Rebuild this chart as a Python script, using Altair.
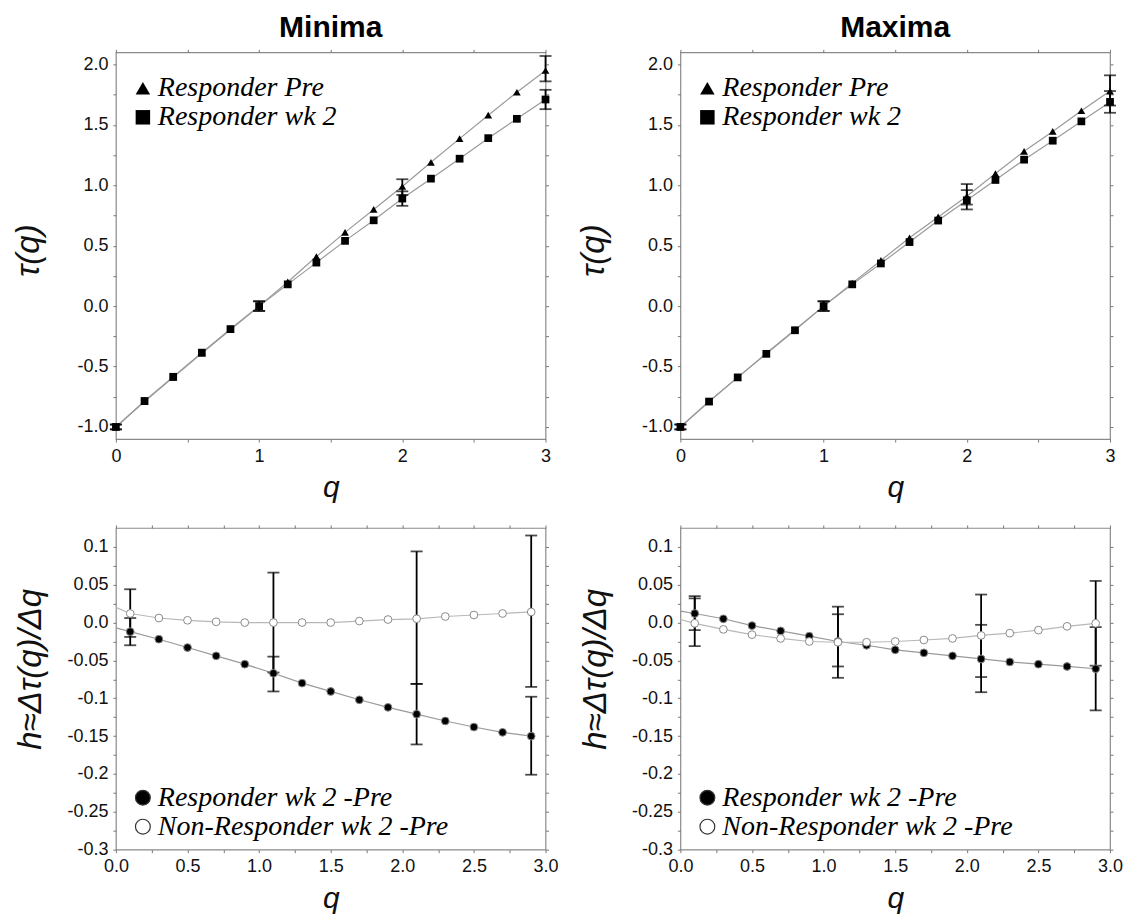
import altair as alt
import pandas as pd

# ---------------- data ----------------
q_top = [0.0, 0.2, 0.4, 0.6, 0.8, 1.0, 1.2, 1.4, 1.6, 1.8, 2.0, 2.2, 2.4, 2.6, 2.8, 3.0]
min_pre = [-1.0, -0.79, -0.59, -0.39, -0.195, 0.0, 0.20, 0.41, 0.61, 0.80, 0.99, 1.19, 1.386, 1.58, 1.77, 1.95]
min_wk2 = [-1.0, -0.785, -0.585, -0.385, -0.19, 0.0, 0.18, 0.36, 0.54, 0.71, 0.89, 1.055, 1.22, 1.39, 1.55, 1.71]
max_pre = [-1.0, -0.79, -0.59, -0.39, -0.195, 0.0, 0.19, 0.378, 0.565, 0.738, 0.909, 1.097, 1.281, 1.446, 1.617, 1.78]
max_wk2 = [-1.0, -0.79, -0.59, -0.395, -0.2, 0.0, 0.18, 0.353, 0.53, 0.708, 0.876, 1.044, 1.212, 1.369, 1.529, 1.69]

q_err_top = [0.0, 1.0, 2.0, 3.0]
min_pre_lo = [-1.02, -0.04, 0.92, 1.86]
min_pre_hi = [-0.98, 0.04, 1.05, 2.07]
min_wk2_lo = [-1.02, -0.04, 0.83, 1.63]
min_wk2_hi = [-0.98, 0.04, 0.95, 1.79]
max_pre_lo = [-1.02, -0.04, 0.84, 1.66]
max_pre_hi = [-0.98, 0.04, 1.01, 1.91]
max_wk2_lo = [-1.02, -0.04, 0.80, 1.60]
max_wk2_hi = [-0.98, 0.04, 0.96, 1.78]

q_bot = [0.1, 0.3, 0.5, 0.7, 0.9, 1.1, 1.3, 1.5, 1.7, 1.9, 2.1, 2.3, 2.5, 2.7, 2.9]
min_resp = [-0.012, -0.022, -0.033, -0.044, -0.055, -0.067, -0.080, -0.091, -0.102, -0.112, -0.121, -0.130, -0.138, -0.145, -0.150]
min_non = [0.012, 0.006, 0.003, 0.001, 0.000, 0.000, 0.000, 0.000, 0.002, 0.004, 0.005, 0.008, 0.010, 0.012, 0.014]
max_resp = [0.012, 0.005, -0.004, -0.011, -0.018, -0.025, -0.030, -0.036, -0.040, -0.044, -0.048, -0.052, -0.055, -0.058, -0.061]
max_non = [-0.001, -0.009, -0.016, -0.021, -0.025, -0.026, -0.026, -0.025, -0.023, -0.021, -0.017, -0.014, -0.010, -0.005, -0.001]
# fitted curves start at q = 0
fit_q0 = 0.0
min_resp_fit0 = -0.007
min_non_fit0 = 0.020
max_resp_fit0 = 0.015
max_non_fit0 = 0.004

q_err_bot = [0.1, 1.1, 2.1, 2.9]
min_resp_lo = [-0.030, -0.091, -0.161, -0.201]
min_resp_hi = [0.006, -0.045, -0.081, -0.098]
min_non_lo = [-0.019, -0.066, -0.081, -0.085]
min_non_hi = [0.044, 0.066, 0.094, 0.115]
max_resp_lo = [-0.010, -0.073, -0.092, -0.116]
max_resp_hi = [0.035, 0.021, -0.003, -0.006]
max_non_lo = [-0.031, -0.058, -0.072, -0.057]
max_non_hi = [0.032, 0.011, 0.037, 0.055]

top_series = ["Responder Pre", "Responder wk 2"]
bot_series = ["Responder wk 2 -Pre", "Non-Responder wk 2 -Pre"]

top_x_ticks = [round(i * 0.5, 3) for i in range(7)]
top_y_ticks = [round(-1.0 + i * 0.25, 3) for i in range(13)]
bot_x_ticks = [round(i * 0.25, 3) for i in range(13)]
bot_y_ticks = [round(-0.3 + i * 0.025, 3) for i in range(17)]

LABEL_FONT = "Liberation Sans"
SERIF = "Liberation Serif"

top_x_expr = "abs(datum.value - round(datum.value)) < 1e-6 ? format(datum.value, 'd') : ''"
top_y_expr = ("abs(datum.value*2 - round(datum.value*2)) < 1e-6 ? "
              "(datum.value < 0 ? '-' : '') + format(abs(datum.value), '.1f') : ''")
bot_x_expr = "abs(datum.value*2 - round(datum.value*2)) < 1e-6 ? format(datum.value, '.1f') : ''"
bot_y_expr = ("abs(datum.value*20 - round(datum.value*20)) > 1e-6 ? '' : "
              "((datum.value < -1e-9 ? '-' : '') + "
              "(abs(datum.value*10 - round(datum.value*10)) < 1e-6 ? format(abs(datum.value), '.1f') "
              ": format(abs(datum.value), '.2f')))")


def mirror_axis(orient, values):
    return alt.Axis(orient=orient, values=values, labels=False, title=None,
                    ticks=True, domain=False, grid=False)


def x_axis(values, expr):
    return alt.Axis(orient="bottom", values=values, labelExpr=expr, title="q",
                    labelOverlap=False, labelFlush=False, grid=False, domain=False,
                    titlePadding=8)


def y_axis(values, expr, title, tx, ty):
    return alt.Axis(orient="left", values=values, labelExpr=expr, title=title,
                    labelOverlap=False, labelFlush=False, grid=False, domain=False,
                    titleX=tx, titleY=ty, titleAngle=270, titleAlign="center",
                    titleBaseline="bottom", titleFontSize=33)


def legend_spec(**kw):
    base = dict(title=None, padding=0, labelFont=SERIF, labelFontStyle="italic",
                labelFontSize=28, labelColor="black", rowPadding=1, labelOffset=1,
                labelLimit=400, orient="none")
    base.update(kw)
    return alt.Legend(**base)


def top_panel(pre, wk2, pre_lo, pre_hi, wk2_lo, wk2_hi, title):
    pts = pd.DataFrame({
        "q": q_top + q_top,
        "tau": pre + wk2,
        "series": [top_series[0]] * len(q_top) + [top_series[1]] * len(q_top),
    })
    err = pd.DataFrame({
        "q": q_err_top + q_err_top,
        "lo": pre_lo + wk2_lo,
        "hi": pre_hi + wk2_hi,
    })
    xs = alt.Scale(domain=[0, 3], nice=False, zero=False)
    ys = alt.Scale(domain=[-1.1, 2.1], nice=False, zero=False)
    lines = alt.Chart(pts).mark_line(strokeWidth=1.2, color="#9a9a9a").encode(
        x=alt.X("q:Q", scale=xs, axis=mirror_axis("top", top_x_ticks)),
        y=alt.Y("tau:Q", scale=ys, axis=mirror_axis("right", top_y_ticks)),
        detail="series:N",
    )
    bars = alt.Chart(err).mark_errorbar(ticks={"size": 12}, thickness=1.8, color="black").encode(
        x=alt.X("q:Q", scale=xs, axis=None),
        y=alt.Y("lo:Q", scale=ys, axis=None),
        y2="hi:Q",
    )
    points = alt.Chart(pts).mark_point(filled=True, size=60, opacity=1, color="black").encode(
        x=alt.X("q:Q", scale=xs, axis=x_axis(top_x_ticks, top_x_expr)),
        y=alt.Y("tau:Q", scale=ys, axis=y_axis(top_y_ticks, top_y_expr, "τ(q)", -70, 198)),
        shape=alt.Shape("series:N",
                        scale=alt.Scale(domain=top_series, range=["triangle-up", "square"]),
                        legend=legend_spec(legendX=13, legendY=22, symbolSize=210,
                                           symbolFillColor="black", symbolStrokeColor="black",
                                           symbolStrokeWidth=0)),
    )
    return alt.layer(lines, bars, points).resolve_axis(x="independent", y="independent").properties(
        width=430, height=387,
        title=alt.TitleParams(title, font=LABEL_FONT, fontSize=30, fontWeight="bold",
                              anchor="middle", offset=6, color="black"),
    )


def bottom_panel(resp, non, resp0, non0, resp_lo, resp_hi, non_lo, non_hi):
    pts = pd.DataFrame({
        "q": q_bot + q_bot,
        "h": resp + non,
        "series": [bot_series[0]] * len(q_bot) + [bot_series[1]] * len(q_bot),
    })
    fit_resp = pd.DataFrame({"q": [fit_q0] + q_bot, "h": [resp0] + resp})
    fit_non = pd.DataFrame({"q": [fit_q0] + q_bot, "h": [non0] + non})
    err = pd.DataFrame({
        "q": q_err_bot + q_err_bot,
        "lo": resp_lo + non_lo,
        "hi": resp_hi + non_hi,
    })
    xs = alt.Scale(domain=[0, 3], nice=False, zero=False)
    ys = alt.Scale(domain=[-0.3, 0.125], nice=False, zero=False)
    line_resp = alt.Chart(fit_resp).mark_line(strokeWidth=1.2, color="#9a9a9a").encode(
        x=alt.X("q:Q", scale=xs, axis=mirror_axis("top", bot_x_ticks)),
        y=alt.Y("h:Q", scale=ys, axis=mirror_axis("right", bot_y_ticks)),
    )
    line_non = alt.Chart(fit_non).mark_line(strokeWidth=1.2, color="#b8b8b8").encode(
        x=alt.X("q:Q", scale=xs, axis=None),
        y=alt.Y("h:Q", scale=ys, axis=None),
    )
    bars = alt.Chart(err).mark_errorbar(ticks={"size": 12}, thickness=1.8, color="black").encode(
        x=alt.X("q:Q", scale=xs, axis=None),
        y=alt.Y("lo:Q", scale=ys, axis=None),
        y2="hi:Q",
    )
    points = alt.Chart(pts).mark_point(filled=True, size=60, opacity=1, shape="circle",
                                       strokeWidth=1, stroke="#8a8a8a").encode(
        x=alt.X("q:Q", scale=xs, axis=x_axis(bot_x_ticks, bot_x_expr)),
        y=alt.Y("h:Q", scale=ys, axis=y_axis(bot_y_ticks, bot_y_expr, "h≈Δτ(q)/Δq", -68, 141)),
        fill=alt.Fill("series:N", scale=alt.Scale(domain=bot_series, range=["black", "white"]),
                      legend=legend_spec(legendX=13, legendY=256, symbolSize=220,
                                         symbolStrokeColor="#333", symbolStrokeWidth=1.2,
                                         symbolType="circle")),
    )
    return alt.layer(line_resp, line_non, bars, points).resolve_axis(x="independent", y="independent").properties(
        width=430, height=322,
    )


tl = top_panel(min_pre, min_wk2, min_pre_lo, min_pre_hi, min_wk2_lo, min_wk2_hi, "Minima")
tr = top_panel(max_pre, max_wk2, max_pre_lo, max_pre_hi, max_wk2_lo, max_wk2_hi, "Maxima")
bl = bottom_panel(min_resp, min_non, min_resp_fit0, min_non_fit0, min_resp_lo, min_resp_hi, min_non_lo, min_non_hi)
br = bottom_panel(max_resp, max_non, max_resp_fit0, max_non_fit0, max_resp_lo, max_resp_hi, max_non_lo, max_non_hi)

chart = alt.concat(
    tl, tr, bl, br, columns=2,
    spacing=alt.RowColnumber(row=89, column=135),
    bounds="flush",
).resolve_scale(
    shape="independent", fill="independent",
).resolve_legend(
    shape="independent", fill="independent",
).properties(
    padding={"left": 4, "top": 3, "right": 5, "bottom": 5},
    background="white",
).configure_view(
    stroke="#8a8a8a", strokeWidth=1.2,
).configure_axis(
    tickColor="#777777", tickSize=3, tickWidth=1, labelPadding=5,
    labelFont=LABEL_FONT, labelFontSize=18, labelColor="#111111",
    titleFont=LABEL_FONT, titleFontSize=30, titleFontStyle="italic", titleFontWeight="normal",
    titleColor="#111111",
)

chart.save("out.html", embed_options={"renderer": "svg", "actions": False})
